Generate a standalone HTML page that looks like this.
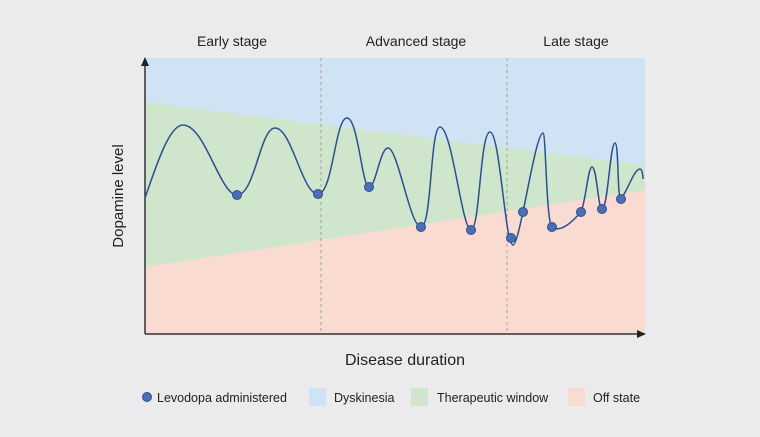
<!DOCTYPE html>
<html><head><style>body{margin:0;background:#ebebed;}svg{display:block;font-family:"Liberation Sans",sans-serif;}</style></head>
<body>
<svg width="760" height="437" viewBox="0 0 760 437" xmlns="http://www.w3.org/2000/svg">
<rect width="760" height="437" fill="#ebebed"/>
<rect x="145" y="58" width="500" height="276" fill="#cfe3f4"/>
<polygon points="145,102 645,165 645,334 145,334" fill="#cfe6cc"/>
<polygon points="145,267 645,190 645,334 145,334" fill="#f9dbd1"/>
<line x1="321" y1="58" x2="321" y2="334" stroke="#a0a0a0" stroke-dasharray="3,3"/>
<line x1="507" y1="58" x2="507" y2="334" stroke="#a0a0a0" stroke-dasharray="3,3"/>
<line x1="145" y1="334" x2="640" y2="334" stroke="#333" stroke-width="1.5"/>
<polygon points="646,334 637,330 637,338" fill="#222"/>
<line x1="145" y1="334" x2="145" y2="64" stroke="#333" stroke-width="1.5"/>
<polygon points="145,57 141,66 149,66" fill="#222"/>
<path fill="none" stroke="#2c4f8f" stroke-width="1.5" d="M145,198 C158,160 170,125 183,125 C205,125 220,195 237,195 C255,195 260,128 275,128 C292,128 302,194 318,194 C333,194 335,118 347,118 C358,118 362,187 369,187 C376,187 380,148 388,148 C398,148 410,227 421,227 C432,227 430,127 440,127 C452,127 462,230 471,230 C480,230 480,132 490,132 C500,132 505,245 513,245 C520,245 535,133 543,133 C546,133 546,220 552,228 C562,232 572,222 581,212 C586,200 588,167 592,167 C597,167 598,209 602,209 C608,209 610,143 615,143 C619,143 617,199 621,199 C628,190 634,169 640,169 C642,169 643,175 643,179"/>
<g fill="#4a6fb5" stroke="#2e4f8f" stroke-width="1">
<circle cx="237" cy="195" r="4.5"/><circle cx="318" cy="194" r="4.5"/><circle cx="369" cy="187" r="4.5"/>
<circle cx="421" cy="227" r="4.5"/><circle cx="471" cy="230" r="4.5"/><circle cx="511" cy="238" r="4.5"/>
<circle cx="523" cy="212" r="4.5"/><circle cx="552" cy="227" r="4.5"/><circle cx="581" cy="212" r="4.5"/>
<circle cx="602" cy="209" r="4.5"/><circle cx="621" cy="199" r="4.5"/>
</g>
<g fill="#222" font-size="14" text-anchor="middle">
<text x="232" y="46">Early stage</text>
<text x="416" y="46">Advanced stage</text>
<text x="576" y="46">Late stage</text>
<text x="405" y="365" font-size="16">Disease duration</text>
<text transform="translate(123,196) rotate(-90)" font-size="15">Dopamine level</text>
</g>
<g font-size="12.5" fill="#222">
<circle cx="147" cy="397" r="4.5" fill="#4a6fb5" stroke="#2e4f8f"/>
<text x="157" y="402">Levodopa administered</text>
<rect x="309" y="388" width="17" height="18" fill="#cfe3f4"/>
<text x="334" y="402">Dyskinesia</text>
<rect x="411" y="388" width="17" height="18" fill="#cfe6cc"/>
<text x="437" y="402">Therapeutic window</text>
<rect x="568" y="388" width="17" height="18" fill="#f9dbd1"/>
<text x="593" y="402">Off state</text>
</g>
</svg>
</body></html>
